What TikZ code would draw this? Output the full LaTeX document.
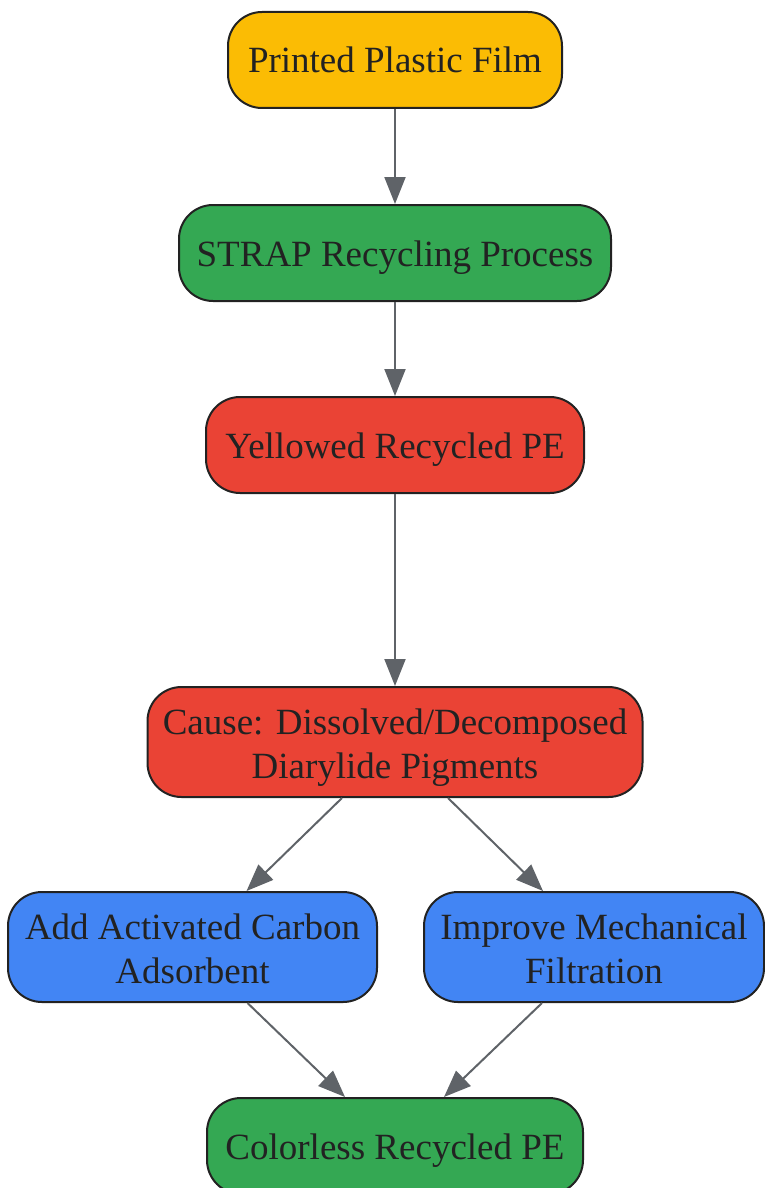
\documentclass[tikz,border=0pt]{standalone}
\usepackage{fontspec}
\setmainfont{Liberation Serif}
\usetikzlibrary{arrows.meta}
\definecolor{cyellow}{HTML}{FBBC04}
\definecolor{cgreen}{HTML}{34A853}
\definecolor{cred}{HTML}{EA4335}
\definecolor{cblue}{HTML}{4285F4}
\definecolor{cborder}{HTML}{222222}
\definecolor{cedge}{HTML}{5F6368}
\begin{document}
\begin{tikzpicture}[x=1pt,y=-1pt,
  box/.style={draw=cborder, line width=2pt, rounded corners=34pt, inner sep=0pt,
    align=center, text=cborder, font=\fontsize{37}{44}\selectfont},
  oneline/.style={box, minimum height=96pt, text height=33pt, text depth=7pt},
  twoline/.style={box, minimum height=110pt, text height=79pt, text depth=7pt},
  link/.style={draw=cedge, line width=2pt, -{Triangle[length=27pt,width=21pt]}}]
\useasboundingbox (0,0) rectangle (764,1188);
\node[oneline, fill=cyellow, minimum width=334pt] (film) at (395,60){Printed Plastic Film};
\node[oneline, fill=cgreen, minimum width=432pt] (strap) at (395,253){STRAP Recycling Process};
\draw[link](film) -- (strap);
\node[oneline, fill=cred, minimum width=378pt] (yellowed) at (395,445){Yellowed Recycled PE};
\draw[link](strap) -- (yellowed);
\node[twoline, fill=cred, minimum width=495pt] (cause) at (395,742){Cause: Dissolved/Decomposed\\Diarylide Pigments};
\draw[link](yellowed) -- (cause);
\node[twoline, fill=cblue, minimum width=369pt] (carbon) at (192.5,947){Add Activated Carbon\\Adsorbent};
\node[twoline, fill=cblue, minimum width=340pt] (filter) at (594,947){Improve Mechanical\\Filtration};
\draw[link]([xshift=-53pt]cause.south) -- ([xshift=54pt]carbon.north);
\draw[link]([xshift=53pt]cause.south) -- ([xshift=-51pt]filter.north);
\node[oneline, fill=cgreen, minimum width=376pt] (colorless) at (395,1146){Colorless Recycled PE};
\draw[link]([xshift=55pt]carbon.south) -- ([xshift=-50pt]colorless.north);
\draw[link]([xshift=-52pt]filter.south) -- ([xshift=49pt]colorless.north);
\end{tikzpicture}
\end{document}
